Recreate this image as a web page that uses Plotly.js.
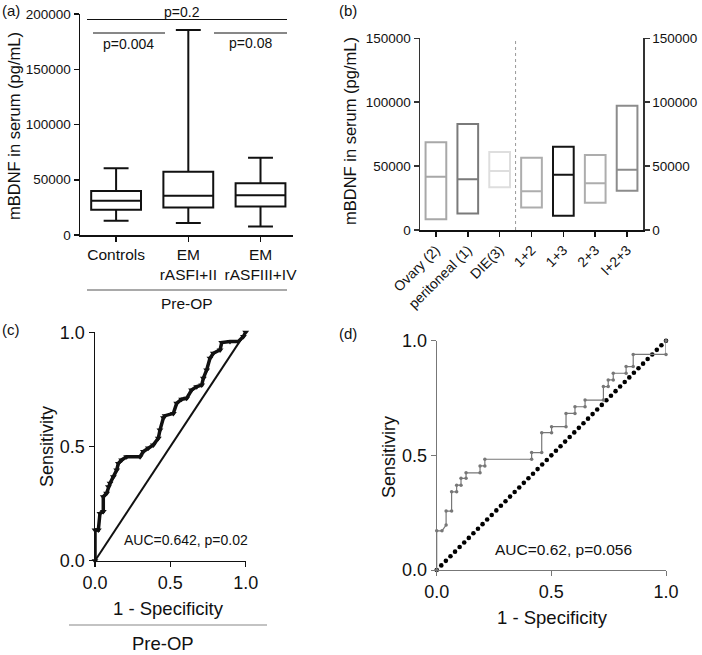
<!DOCTYPE html>
<html>
<head>
<meta charset="utf-8">
<script src="https://cdn.plot.ly/plotly-3.0.1.min.js"></script>
<style>html,body{margin:0;padding:0;background:#fff;}#chart{width:702px;height:655px;}</style>
</head>
<body>
<div id="chart"></div>
<script>
// ---------- Panel (a) data: box plot summaries ----------
const aCats = ["Controls", "EM<br>rASFI+II", "EM<br>rASFIII+IV"];
const aMin = [13000, 10800, 7800];
const aQ1 = [22800, 25000, 25700];
const aMed = [30900, 35600, 35900];
const aQ3 = [39800, 57300, 46800];
const aMax = [60500, 185500, 70000];
const aYTicks = [0, 50000, 100000, 150000, 200000];

// ---------- Panel (b) data: floating bars (min..max, median line) ----------
const bCats = ["Ovary (2)", "peritoneal (1)", "DIE(3)", "1+2", "1+3", "2+3", "l+2+3"];
const bMin = [8400, 13000, 33400, 17700, 11200, 21400, 30800];
const bMed = [41700, 39700, 46200, 30300, 43300, 36500, 47200];
const bMax = [68600, 83000, 61000, 56600, 65200, 58700, 97300];
const bColors = ["#a8a8a8", "#7a7a7a", "#dedede", "#adadad", "#151515", "#adadad", "#8c8c8c"];
const bYTicks = [0, 50000, 100000, 150000];

// ---------- Panel (c) data: ROC curve ----------
const cX = [0, 0, 0.022, 0.033, 0.055, 0.055, 0.077, 0.089, 0.1, 0.122, 0.144, 0.155, 0.177, 0.21, 0.299, 0.321, 0.354, 0.387, 0.42, 0.431, 0.454, 0.465, 0.52, 0.542, 0.575, 0.608, 0.641, 0.675, 0.708, 0.719, 0.741, 0.763, 0.785, 0.83, 0.841, 0.896, 0.951, 0.985, 1];
const cY = [0, 0.134, 0.134, 0.207, 0.215, 0.28, 0.295, 0.324, 0.339, 0.368, 0.397, 0.426, 0.441, 0.455, 0.455, 0.478, 0.493, 0.507, 0.536, 0.572, 0.626, 0.635, 0.645, 0.689, 0.707, 0.711, 0.747, 0.762, 0.769, 0.799, 0.835, 0.886, 0.908, 0.923, 0.955, 0.96, 0.96, 0.982, 1];
const cRefX = [0, 1];
const cRefY = [0, 1];

// ---------- Panel (d) data: ROC curve + line of identity ----------
const dX = [0, 0, 0.023, 0.041, 0.041, 0.065, 0.065, 0.087, 0.087, 0.106, 0.106, 0.128, 0.128, 0.189, 0.189, 0.21, 0.21, 0.414, 0.414, 0.458, 0.458, 0.501, 0.501, 0.564, 0.564, 0.603, 0.603, 0.647, 0.647, 0.727, 0.727, 0.748, 0.748, 0.77, 0.77, 0.826, 0.826, 0.857, 0.857, 1.0, 1.0];
const dY = [0, 0.171, 0.171, 0.196, 0.257, 0.257, 0.341, 0.341, 0.37, 0.37, 0.40, 0.40, 0.424, 0.424, 0.454, 0.454, 0.483, 0.483, 0.512, 0.512, 0.599, 0.599, 0.625, 0.625, 0.683, 0.683, 0.712, 0.712, 0.741, 0.741, 0.8, 0.8, 0.829, 0.829, 0.858, 0.858, 0.887, 0.887, 0.94, 0.94, 1.0];
const dDiag = [0, 0.02, 0.04, 0.06, 0.08, 0.1, 0.12, 0.14, 0.16, 0.18, 0.2, 0.22, 0.24, 0.26, 0.28, 0.3, 0.32, 0.34, 0.36, 0.38, 0.4, 0.42, 0.44, 0.46, 0.48, 0.5, 0.52, 0.54, 0.56, 0.58, 0.6, 0.62, 0.64, 0.66, 0.68, 0.7, 0.72, 0.74, 0.76, 0.78, 0.8, 0.82, 0.84, 0.86, 0.88, 0.9, 0.92, 0.94, 0.96, 0.98, 1];
const rocTicks = [0, 0.5, 1];
const rocTickText = ["0.0", "0.5", "1.0"];

// ---------- layout helpers ----------
const W = 702, H = 655;
const FONT = "Liberation Sans, Arial, Helvetica, sans-serif";
const px = x => x / W;
const py = y => 1 - y / H;
const fmt = v => String(v);

function ann(text, x, y, size, extra) {
  return Object.assign({
    text: text, x: px(x), y: py(y), xref: "paper", yref: "paper",
    showarrow: false, xanchor: "center", yanchor: "middle",
    font: {family: FONT, size: size, color: "#111"}
  }, extra || {});
}
function pline(x0, y0, x1, y1, color, width, dash) {
  return {type: "line", xref: "paper", yref: "paper",
    x0: px(x0), y0: py(y0), x1: px(x1), y1: py(y1),
    line: {color: color, width: width, dash: dash || "solid"}};
}
function axisBase(extra) {
  return Object.assign({
    showgrid: false, zeroline: false, showline: true,
    linecolor: "#111", linewidth: 1.5, ticks: "outside", ticklen: 5,
    tickwidth: 1.5, tickcolor: "#111",
    tickfont: {family: FONT, size: 13.5, color: "#111"}, fixedrange: true
  }, extra);
}

const traces = [];

// Panel (a) boxes
traces.push({
  type: "box", x: aCats, q1: aQ1, median: aMed, q3: aQ3,
  lowerfence: aMin, upperfence: aMax,
  xaxis: "x", yaxis: "y", boxpoints: false,
  fillcolor: "white", line: {color: "#111", width: 2},
  whiskerwidth: 0.5, width: 0.69, showlegend: false, hoverinfo: "skip"
});

// Panel (b) floating bars
for (let i = 0; i < bCats.length; i++) {
  traces.push({
    type: "box", x: [bCats[i]], q1: [bMin[i]], median: [bMed[i]], q3: [bMax[i]],
    lowerfence: [bMin[i]], upperfence: [bMax[i]],
    xaxis: "x2", yaxis: "y2", boxpoints: false,
    fillcolor: "rgba(255,255,255,0)", line: {color: bColors[i], width: 2},
    whiskerwidth: 0, width: 0.65, showlegend: false, hoverinfo: "skip"
  });
}
// binds the right-hand axis of panel (b)
traces.push({type: "scatter", x: [], y: [], xaxis: "x2", yaxis: "y5", showlegend: false, hoverinfo: "skip"});

// Panel (c)
traces.push({
  type: "scatter", mode: "lines", x: cRefX, y: cRefY, xaxis: "x3", yaxis: "y3",
  line: {color: "#111", width: 2}, showlegend: false, hoverinfo: "skip"
});
traces.push({
  type: "scatter", mode: "lines+markers", x: cX, y: cY, xaxis: "x3", yaxis: "y3",
  line: {color: "#111", width: 3.5},
  marker: {symbol: "triangle-down", size: 6, color: "#111"},
  cliponaxis: false, showlegend: false, hoverinfo: "skip"
});

// Panel (d)
traces.push({
  type: "scatter", mode: "markers", x: dDiag, y: dDiag, xaxis: "x4", yaxis: "y4",
  marker: {symbol: "circle", size: 4.6, color: "#000"},
  cliponaxis: false, showlegend: false, hoverinfo: "skip"
});
traces.push({
  type: "scatter", mode: "lines+markers", x: dX, y: dY, xaxis: "x4", yaxis: "y4",
  line: {color: "#777", width: 1.2},
  marker: {symbol: "circle", size: 3.5, color: "#777"},
  cliponaxis: false, showlegend: false, hoverinfo: "skip"
});

const layout = {
  width: W, height: H, margin: {l: 0, r: 0, t: 0, b: 0},
  paper_bgcolor: "#fff", plot_bgcolor: "rgba(0,0,0,0)",
  showlegend: false, boxmode: "overlay",
  font: {family: FONT, color: "#111"},
  // Panel (a)
  xaxis: axisBase({domain: [px(80), px(293)], anchor: "y", type: "category",
    range: [-0.5, 2.45], tickfont: {family: FONT, size: 15.5, color: "#111"}}),
  yaxis: axisBase({domain: [py(235), py(14)], anchor: "x", range: [0, 200000],
    tickvals: aYTicks, ticktext: aYTicks.map(fmt)}),
  // Panel (b)
  xaxis2: axisBase({domain: [px(420), px(643)], anchor: "y2", type: "category",
    range: [-0.5, 6.5], tickangle: -45, tickfont: {family: FONT, size: 14, color: "#111"}}),
  yaxis2: axisBase({domain: [py(230), py(38.3)], anchor: "x2", range: [0, 150000],
    tickvals: bYTicks, ticktext: bYTicks.map(fmt), linecolor: "#333", tickcolor: "#333"}),
  yaxis5: axisBase({overlaying: "y2", side: "right", anchor: "x2", range: [0, 150000],
    tickvals: bYTicks, ticktext: bYTicks.map(fmt), linecolor: "#333", tickcolor: "#333"}),
  // Panel (c)
  xaxis3: axisBase({domain: [px(95), px(245.7)], anchor: "y3", range: [0, 1],
    tickvals: rocTicks, ticktext: rocTickText, tickfont: {family: FONT, size: 18, color: "#111"}}),
  yaxis3: axisBase({domain: [py(560.7), py(332.3)], anchor: "x3", range: [0, 1],
    tickvals: rocTicks, ticktext: rocTickText, tickfont: {family: FONT, size: 18, color: "#111"}}),
  // Panel (d)
  xaxis4: axisBase({domain: [px(436.7), px(666)], anchor: "y4", range: [0, 1],
    tickvals: rocTicks, ticktext: rocTickText, linecolor: "#777", linewidth: 1,
    tickcolor: "#777", tickwidth: 1, tickfont: {family: FONT, size: 18, color: "#111"}}),
  yaxis4: axisBase({domain: [py(570), py(340.7)], anchor: "x4", range: [0, 1],
    tickvals: rocTicks, ticktext: rocTickText, linecolor: "#777", linewidth: 1,
    tickcolor: "#777", tickwidth: 1, tickfont: {family: FONT, size: 18, color: "#111"}}),
  shapes: [
    // (a) significance brackets
    pline(87, 19.5, 287, 19.5, "#111", 1),
    pline(93, 33, 165, 33, "#111", 1),
    pline(214, 33, 287, 33, "#111", 1),
    // (a) Pre-OP group line
    pline(87, 290, 287, 290, "#555", 1.2),
    // (b) dotted separator
    {type: "line", xref: "x2", yref: "y2", x0: 2.5, x1: 2.5, y0: 0, y1: 150000,
      line: {color: "#999", width: 1, dash: "dot"}},
    // (c) Pre-OP group line
    pline(69, 625, 267, 625, "#888", 1.2)
  ],
  annotations: [
    ann("(a)", 0, 10, 15, {xanchor: "left"}),
    ann("(b)", 337, 10, 15, {xanchor: "left"}),
    ann("(c)", 0, 330, 15, {xanchor: "left"}),
    ann("(d)", 337, 333, 15, {xanchor: "left"}),
    ann("mBDNF in serum (pg/mL)", 14, 126, 16.5, {textangle: -90}),
    ann("mBDNF in serum (pg/mL)", 350, 131, 16.5, {textangle: -90}),
    ann("p=0.2", 182, 12, 14),
    ann("p=0.004", 128, 44, 14),
    ann("p=0.08", 250, 43, 14),
    ann("Pre-OP", 187, 303, 15.5),
    ann("Sensitivity", 47, 447, 18, {textangle: -90}),
    ann("1 - Specificity", 168, 608, 18.5),
    ann("Pre-OP", 163, 643, 18.5),
    ann("AUC=0.642, p=0.02", 186, 540, 14),
    ann("Sensitiviry", 389, 457, 18, {textangle: -90}),
    ann("1 - Specificity", 552, 617, 18.5),
    ann("AUC=0.62, p=0.056", 563, 549, 15.5)
  ]
};

Plotly.newPlot("chart", traces, layout, {staticPlot: true, displayModeBar: false});
</script>
</body>
</html>
